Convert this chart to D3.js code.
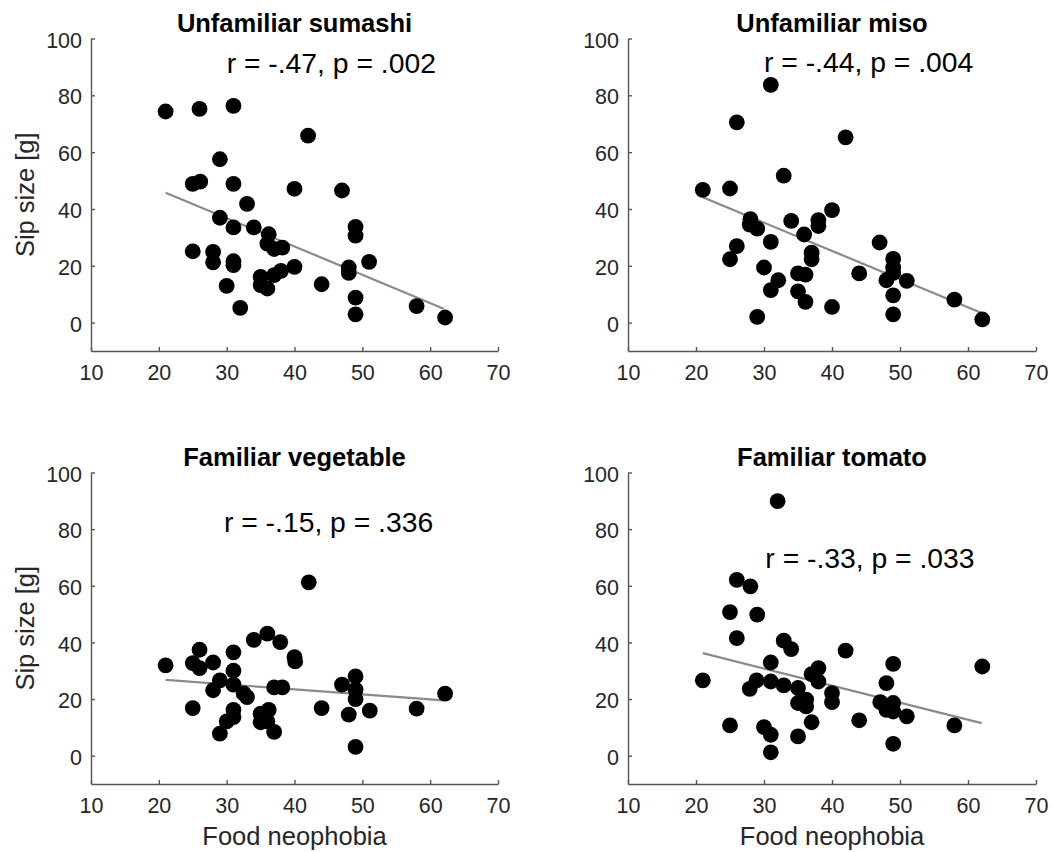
<!DOCTYPE html>
<html>
<head>
<meta charset="utf-8">
<script src="https://cdn.jsdelivr.net/npm/d3@7"></script>
<style>
  html, body { margin: 0; padding: 0; background: #fff; }
  svg { display: block; }
  text { font-family: "Liberation Sans", Arial, Helvetica, sans-serif; }
</style>
</head>
<body>
<svg id="chart" width="1052" height="852"></svg>
<script>
// ---------- data ----------
const titles = ["Unfamiliar sumashi", "Unfamiliar miso", "Familiar vegetable", "Familiar tomato"];
const statLabels = ["r = -.47, p = .002", "r = -.44, p = .004", "r = -.15, p = .336", "r = -.33, p = .033"];
const xTicks = [10, 20, 30, 40, 50, 60, 70];
const yTicks = [0, 20, 40, 60, 80, 100];
const xLabel = "Food neophobia";
const yLabel = "Sip size [g]";

const sumashiX = [21, 26, 31, 42, 29, 25, 26.1, 31, 40, 47, 33, 29, 31, 34, 36.2, 49, 49, 36, 37, 38.2, 25, 28, 28, 31, 31, 40, 38, 37, 35, 48, 48, 51, 35, 36, 30, 44, 32, 49, 49, 58, 62.2];
const sumashiY = [74.3, 75.2, 76.3, 65.8, 57.5, 48.8, 49.6, 48.8, 47.1, 46.5, 41.8, 36.9, 33.5, 33.5, 31.1, 33.7, 30.6, 27.8, 25.9, 26.4, 25.1, 24.9, 21.2, 21.6, 20.2, 19.6, 18.2, 16.7, 16.1, 19.4, 17.5, 21.4, 13.2, 12.0, 12.9, 13.5, 5.2, 8.8, 2.9, 5.8, 1.8];

const misoX = [31, 26, 42, 32.9, 21, 25, 40, 28, 27.9, 29, 34, 38, 38, 35.9, 31, 47, 26, 25, 37, 37, 30, 49, 49, 35, 36.1, 44, 32.1, 48, 51, 31, 35, 36.1, 49, 40, 58, 29, 49, 62.1, 49];
const misoY = [83.7, 70.5, 65.2, 51.7, 46.7, 47.2, 39.6, 36.4, 34.5, 33.1, 35.8, 36.1, 34.0, 31.0, 28.4, 28.2, 26.9, 22.3, 24.6, 22.3, 19.4, 22.4, 19.4, 17.3, 16.9, 17.3, 14.9, 14.9, 14.7, 11.4, 11.0, 7.3, 9.6, 5.5, 8.1, 2.0, 2.9, 1.1, 17.5];

const vegX = [42.1, 34, 36, 37.9, 40, 40.1, 26, 31, 21, 25, 26, 28, 31, 29, 31, 28, 33, 37, 38.2, 47, 49, 49, 49, 62.2, 25, 31, 44, 51.1, 48, 58, 35, 36.2, 35, 36, 30, 31, 29, 37, 49, 32.5];
const vegY = [61.2, 40.9, 43.1, 40.1, 34.8, 33.3, 37.4, 36.5, 31.9, 32.7, 30.9, 32.9, 30.0, 26.6, 25.1, 23.1, 20.7, 24.1, 24.1, 25.1, 28.0, 23.3, 20.0, 21.9, 16.8, 16.2, 16.8, 15.9, 14.5, 16.6, 14.8, 16.2, 11.8, 12.1, 12.1, 13.6, 7.8, 8.4, 3.1, 22.0];

const tomatoX = [32, 26, 28, 25, 29, 26, 32.9, 34, 42, 31, 49, 62.1, 38, 37, 38, 21, 28.9, 31, 32.9, 27.9, 35, 40, 40, 48, 47.1, 49, 48, 49, 51, 35, 36.2, 36.2, 37, 44, 25, 30, 31, 35, 58, 49, 31];
const tomatoY = [89.9, 62.1, 59.8, 50.7, 49.8, 41.5, 40.6, 37.6, 37.1, 32.9, 32.4, 31.5, 30.9, 28.8, 26.2, 26.6, 26.6, 26.2, 24.8, 23.6, 23.9, 22.1, 18.9, 25.6, 18.9, 18.6, 16.2, 15.6, 13.9, 18.6, 19.8, 17.4, 11.8, 12.5, 10.7, 10.1, 7.4, 6.8, 10.7, 4.2, 1.2];

// regression line end points (x from, x to) and fitted y at those x
const fitX = [21, 62];
const sumashiFit = [45.7, 4.9];
const misoFit = [44.1, 3.4];
const vegFit = [26.8, 19.5];
const tomatoFit = [36.2, 11.5];

// ---------- layout ----------
const panels = [
  { x: sumashiX, y: sumashiY, fit: sumashiFit, left: 91, right: 498, top: 38.5, bottom: 351, statAt: [30, 87.8], showY: true, showX: false },
  { x: misoX, y: misoY, fit: misoFit, left: 628, right: 1036, top: 38.5, bottom: 351, statAt: [30, 88.3], showY: false, showX: false },
  { x: vegX, y: vegY, fit: vegFit, left: 91, right: 498, top: 472.5, bottom: 784, statAt: [29.6, 79.1], showY: true, showX: true },
  { x: tomatoX, y: tomatoY, fit: tomatoFit, left: 628, right: 1036, top: 472.5, bottom: 784, statAt: [30.2, 66.2], showY: false, showX: true }
];

const svg = d3.select("#chart");
svg.append("rect").attr("width", 1052).attr("height", 852).attr("fill", "#fff");

const axisColor = "#555";
const textColor = "#262626";

panels.forEach((p, i) => {
  const xs = d3.scaleLinear().domain([10, 70]).range([p.left, p.right]);
  const ys = d3.scaleLinear().domain([-10, 100]).range([p.bottom, p.top]);
  const g = svg.append("g");

  // x axis
  const xa = g.append("g")
    .attr("transform", `translate(0,${p.bottom})`)
    .call(d3.axisBottom(xs).tickValues(xTicks).tickSizeInner(-4).tickSizeOuter(0).tickPadding(13.5).tickFormat(d3.format("d")));
  // y axis
  const ya = g.append("g")
    .attr("transform", `translate(${p.left},0)`)
    .call(d3.axisLeft(ys).tickValues(yTicks).tickSizeInner(-4).tickSizeOuter(0).tickPadding(9).tickFormat(d3.format("d")));

  [xa, ya].forEach(a => {
    a.select(".domain").attr("stroke", axisColor).attr("stroke-width", 1.4);
    a.selectAll(".tick line").attr("stroke", axisColor).attr("stroke-width", 1.4);
    a.selectAll(".tick text").attr("fill", textColor)
      .style("font-size", "21.5px")
      .style("font-family", '"Liberation Sans", Arial, sans-serif');
  });
  ya.selectAll(".tick text").attr("dy", "0.40em");

  // regression line
  g.append("line")
    .attr("x1", xs(fitX[0])).attr("y1", ys(p.fit[0]))
    .attr("x2", xs(fitX[1])).attr("y2", ys(p.fit[1]))
    .attr("stroke", "#8a8a8a").attr("stroke-width", 2.2);

  // points
  g.selectAll("circle.pt").data(p.x.map((d, k) => [d, p.y[k]]))
    .enter().append("circle").attr("class", "pt")
    .attr("cx", d => xs(d[0])).attr("cy", d => ys(d[1]))
    .attr("r", 7.9).attr("fill", "#000");

  // title
  g.append("text")
    .attr("x", (p.left + p.right) / 2).attr("y", p.top - 6.5)
    .attr("text-anchor", "middle")
    .style("font-size", "25.5px").style("font-weight", "bold").attr("fill", "#000")
    .text(titles[i]);

  // stats annotation
  g.append("text")
    .attr("x", xs(p.statAt[0])).attr("y", ys(p.statAt[1]))
    .attr("text-anchor", "start")
    .style("font-size", "28.3px").attr("fill", "#000")
    .text(statLabels[i]);

  if (p.showY) {
    g.append("text")
      .attr("transform", `translate(33.5,${(p.top + p.bottom) / 2}) rotate(-90)`)
      .attr("text-anchor", "middle")
      .style("font-size", "25.5px").attr("fill", textColor)
      .text(yLabel);
  }
  if (p.showX) {
    g.append("text")
      .attr("x", (p.left + p.right) / 2).attr("y", p.bottom + 61)
      .attr("text-anchor", "middle")
      .style("font-size", "25.5px").attr("fill", textColor)
      .text(xLabel);
  }
});
</script>
</body>
</html>
